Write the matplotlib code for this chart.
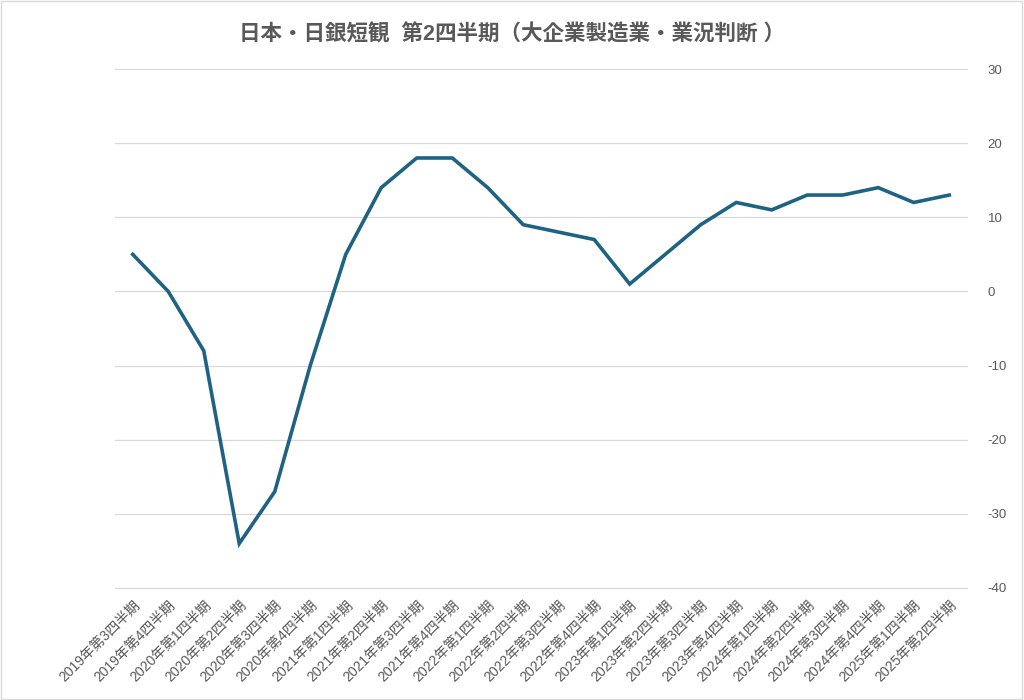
import matplotlib.pyplot as plt
from matplotlib.patches import Rectangle

plt.rcParams['font.family'] = ['Liberation Sans', 'Noto Sans CJK JP']
plt.rcParams['axes.unicode_minus'] = False

quarters = ['2019年第3四半期', '2019年第4四半期', '2020年第1四半期', '2020年第2四半期',
            '2020年第3四半期', '2020年第4四半期', '2021年第1四半期', '2021年第2四半期',
            '2021年第3四半期', '2021年第4四半期', '2022年第1四半期', '2022年第2四半期',
            '2022年第3四半期', '2022年第4四半期', '2023年第1四半期', '2023年第2四半期',
            '2023年第3四半期', '2023年第4四半期', '2024年第1四半期', '2024年第2四半期',
            '2024年第3四半期', '2024年第4四半期', '2025年第1四半期', '2025年第2四半期']
di_values = [5, 0, -8, -34, -27, -10, 5, 14, 18, 18, 14, 9,
             8, 7, 1, 5, 9, 12, 11, 13, 13, 14, 12, 13]
y_ticks = [-40, -30, -20, -10, 0, 10, 20, 30]

fig = plt.figure(figsize=(10.24, 7), dpi=100)
ax = fig.add_axes([0.1123, 0.16, 0.832, 0.7414])

x = range(len(quarters))
ax.plot(x, di_values, color='#1f6383', linewidth=2.6, solid_joinstyle='miter')

ax.set_xlim(-0.5, len(quarters) - 0.5)
ax.set_ylim(-40, 30)
ax.set_yticks(y_ticks)
ax.yaxis.tick_right()
ax.tick_params(axis='y', length=0, pad=15, labelsize=9.5, labelcolor='#595959')
ax.tick_params(axis='x', length=0, pad=7, labelsize=10, labelcolor='#595959')
ax.set_xticks(list(x))
ax.set_xticklabels(quarters, rotation=45, ha='right', rotation_mode='anchor')

for yv in y_ticks:
    ax.axhline(yv, color='#d9d9d9', linewidth=0.9, zorder=0, clip_on=False)
for s in ax.spines.values():
    s.set_visible(False)

fig.suptitle('日本・日銀短観  第2四半期（大企業製造業・業況判断 ）', x=0.5, y=0.966,
             fontsize=15.5, fontweight='bold', color='#595959')

fig.patches.append(Rectangle((0.001, 0.002), 0.997, 0.996, transform=fig.transFigure,
                             fill=False, edgecolor='#d9d9d9', linewidth=1))

fig.savefig('out.png', dpi=100)
